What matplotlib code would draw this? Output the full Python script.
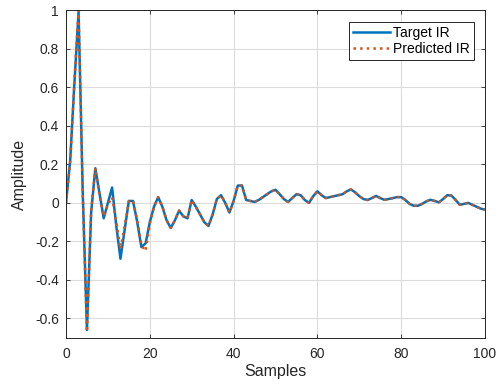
import matplotlib
matplotlib.use('Agg')
import matplotlib.pyplot as plt
import numpy as np

plt.rcParams['font.family'] = ['Liberation Sans', 'DejaVu Sans']

# Impulse responses, samples 0..100
target_ir = [0.0, 0.22, 0.62, 0.99, 0.05, -0.66, -0.05, 0.18, 0.05, -0.08,
             0.0, 0.08, -0.12, -0.29, -0.14, 0.01, 0.01, -0.10, -0.23, -0.21,
             -0.10, -0.02, 0.03, -0.02, -0.09, -0.13, -0.09, -0.04, -0.07, -0.08,
             0.015, -0.02, -0.06, -0.10, -0.12, -0.06, 0.02, 0.04, 0.0, -0.05,
             0.01, 0.09, 0.09, 0.015, 0.01, 0.005, 0.015, 0.03, 0.045, 0.06,
             0.068, 0.045, 0.02, 0.005, 0.025, 0.045, 0.04, 0.015, 0.0, 0.035,
             0.06, 0.04, 0.025, 0.03, 0.035, 0.04, 0.045, 0.06, 0.07, 0.055,
             0.035, 0.02, 0.015, 0.025, 0.036, 0.025, 0.016, 0.02, 0.025, 0.03,
             0.03, 0.015, -0.005, -0.015, -0.015, -0.005, 0.008, 0.016, 0.01, 0.003,
             0.02, 0.04, 0.038, 0.015, -0.01, -0.005, 0.0, -0.01, -0.02, -0.03,
             -0.035]

predicted_ir = [0.0, 0.21, 0.63, 1.0, 0.04, -0.67, -0.04, 0.18, 0.04, -0.07,
                -0.01, 0.03, -0.10, -0.24, -0.12, 0.01, 0.01, -0.09, -0.22, -0.25,
                -0.11, -0.02, 0.03, -0.02, -0.09, -0.13, -0.09, -0.04, -0.07, -0.08,
                0.015, -0.02, -0.06, -0.10, -0.12, -0.06, 0.02, 0.04, 0.0, -0.05,
                0.01, 0.09, 0.09, 0.015, 0.01, 0.005, 0.015, 0.03, 0.045, 0.06,
                0.068, 0.045, 0.02, 0.005, 0.025, 0.045, 0.04, 0.015, 0.0, 0.035,
                0.06, 0.04, 0.025, 0.03, 0.035, 0.04, 0.045, 0.06, 0.07, 0.055,
                0.035, 0.02, 0.015, 0.025, 0.036, 0.025, 0.016, 0.02, 0.025, 0.03,
                0.03, 0.015, -0.005, -0.015, -0.015, -0.005, 0.008, 0.016, 0.01, 0.003,
                0.02, 0.04, 0.038, 0.015, -0.01, -0.005, 0.0, -0.01, -0.02, -0.03,
                -0.035]

samples = np.arange(len(target_ir))

fig = plt.figure(figsize=(5, 3.85), dpi=100)
ax = fig.add_axes([0.132, 0.123, 0.838, 0.850])

ax.plot(samples, target_ir, color='#0072BD', linewidth=1.8, label='Target IR')
ax.plot(samples, predicted_ir, color='#D95319', linewidth=1.8, linestyle=':',
        label='Predicted IR')

ax.set_xlim(0, 100)
ax.set_ylim(-0.7, 1)
ax.set_xticks(range(0, 101, 20))
ax.set_yticks(np.round(np.arange(-0.6, 1.01, 0.2), 1))
ax.set_yticklabels(['-0.6', '-0.4', '-0.2', '0', '0.2', '0.4', '0.6', '0.8', '1'])

ax.grid(True, color='#dcdcdc', linewidth=0.8)
ax.set_axisbelow(True)
ax.tick_params(direction='in', top=True, right=True, length=3, width=0.6,
               labelsize=10, colors='#262626')
ax.tick_params(axis='x', pad=7)
ax.tick_params(axis='y', pad=5)
for sp in ax.spines.values():
    sp.set_color('#262626')
    sp.set_linewidth(0.7)

ax.set_xlabel('Samples', fontsize=11.5, color='#262626', labelpad=2)
ax.set_ylabel('Amplitude', fontsize=11.5, color='#262626', labelpad=6)

leg = ax.legend(loc='upper right', fontsize=10, handlelength=2.7, handletextpad=0.2,
                borderpad=0.3, labelspacing=0.15, fancybox=False, framealpha=1,
                edgecolor='#262626', borderaxespad=0.8)
leg.get_frame().set_linewidth(0.7)

fig.savefig('out.png', dpi=100)
